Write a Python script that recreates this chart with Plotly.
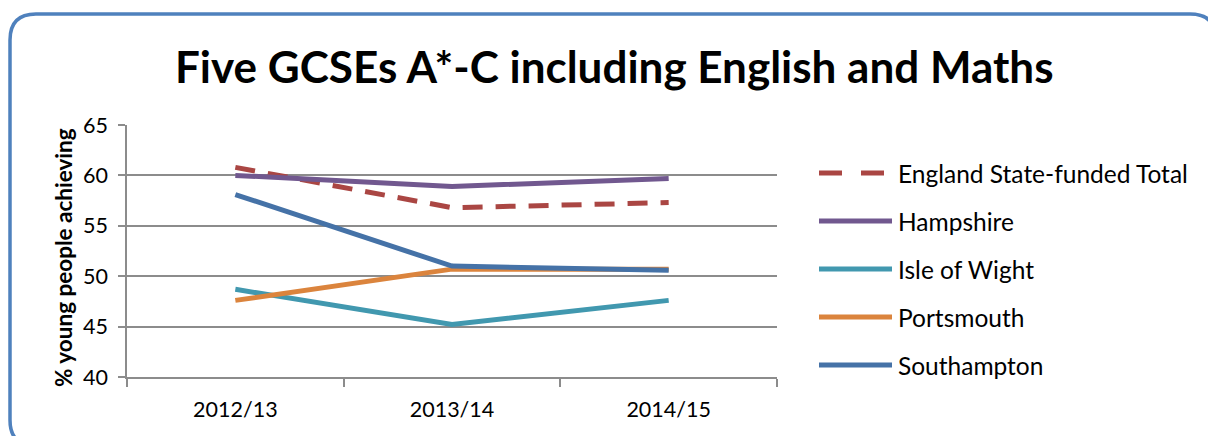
import plotly.graph_objects as go

years = ["2012/13", "2013/14", "2014/15"]
series_names = ["England State-funded Total", "Hampshire", "Isle of Wight", "Portsmouth", "Southampton"]
england = [60.8, 56.8, 57.3]
hampshire = [60.0, 58.9, 59.7]
isle_of_wight = [48.7, 45.2, 47.6]
portsmouth = [47.6, 50.7, 50.7]
southampton = [58.1, 51.0, 50.6]
y_ticks = [40, 45, 50, 55, 60, 65]

values = [england, hampshire, isle_of_wight, portsmouth, southampton]
colors = ["#AA4643", "#71588F", "#4198AF", "#DB843D", "#4572A7"]
dashes = ["20px,13px", "solid", "solid", "solid", "solid"]

FONT = "Lato, Open Sans, sans-serif"
W, H = 1208, 436
L, R, T, B = 127, 777, 125, 377

fig = go.Figure()
for name, vals, col, d in zip(series_names, values, colors, dashes):
    fig.add_trace(go.Scatter(x=years, y=vals, mode="lines", name=name,
                             line=dict(color=col, width=5, dash=d),
                             showlegend=False, hoverinfo="skip"))

def px_x(p):
    return (p - L) / (R - L)

def px_y(p):
    return (B - p) / (B - T)

shapes = []
# rounded border
x0, y0, x1, y1, r = 10, 14, 1216, 446, 26
path = (f"M {px_x(x0+r)},{px_y(y0)} L {px_x(x1-r)},{px_y(y0)} "
        f"Q {px_x(x1)},{px_y(y0)} {px_x(x1)},{px_y(y0+r)} "
        f"L {px_x(x1)},{px_y(y1-r)} Q {px_x(x1)},{px_y(y1)} {px_x(x1-r)},{px_y(y1)} "
        f"L {px_x(x0+r)},{px_y(y1)} Q {px_x(x0)},{px_y(y1)} {px_x(x0)},{px_y(y1-r)} "
        f"L {px_x(x0)},{px_y(y0+r)} Q {px_x(x0)},{px_y(y0)} {px_x(x0+r)},{px_y(y0)} Z")
shapes.append(dict(type="path", xref="paper", yref="paper", path=path,
                   line=dict(color="#4F81BD", width=3.5), layer="below"))

annotations = []
leg_y0, leg_dy = 173, 48
for i, (name, col, d) in enumerate(zip(series_names, colors, dashes)):
    yy = leg_y0 + i * leg_dy
    shapes.append(dict(type="line", xref="paper", yref="paper",
                       x0=px_x(819), x1=px_x(892), y0=px_y(yy), y1=px_y(yy),
                       line=dict(color=col, width=5, dash=("23px,19px" if d != "solid" else "solid"))))
    annotations.append(dict(xref="paper", yref="paper", x=px_x(896), y=px_y(yy),
                            xanchor="left", yanchor="middle", showarrow=False,
                            text=name, font=dict(family=FONT, size=24.5, color="#000")))

annotations.append(dict(xref="paper", yref="paper", x=px_x(614), y=px_y(66),
                        xanchor="center", yanchor="middle", showarrow=False,
                        text="<b>Five GCSEs A*-C including English and Maths</b>",
                        font=dict(family=FONT, size=44, color="#000")))
annotations.append(dict(xref="paper", yref="paper", x=px_x(63), y=px_y(258),
                        xanchor="center", yanchor="middle", showarrow=False, textangle=-90,
                        text="<b>% young people achieving</b>",
                        font=dict(family=FONT, size=22.5, color="#000")))

fig.update_layout(
    width=W, height=H,
    margin=dict(l=L, r=W - R, t=T, b=H - B),
    paper_bgcolor="white", plot_bgcolor="white",
    shapes=shapes, annotations=annotations, hovermode=False,
    xaxis=dict(type="category", tickson="boundaries", ticks="outside", ticklen=8,
               tickcolor="#8C8C8C", tickwidth=1.5, showline=True, linecolor="#8C8C8C",
               linewidth=1.5, showgrid=False, range=[-0.5, 2.5], ticklabelstandoff=12,
               tickfont=dict(family=FONT, size=21.5, color="#000")),
    yaxis=dict(range=[40, 65], tickvals=y_ticks, ticks="outside", ticklen=7,
               tickcolor="#8C8C8C", tickwidth=1.5, showline=True, linecolor="#8C8C8C",
               linewidth=1.5, showgrid=True, gridcolor="#8C8C8C", gridwidth=1.5,
               zeroline=False, ticklabelstandoff=6,
               tickfont=dict(family=FONT, size=21.5, color="#000")),
)
fig.write_html("out.html", config={"displayModeBar": False},
               post_script="document.body.style.margin='0';document.body.style.overflow='hidden';")
